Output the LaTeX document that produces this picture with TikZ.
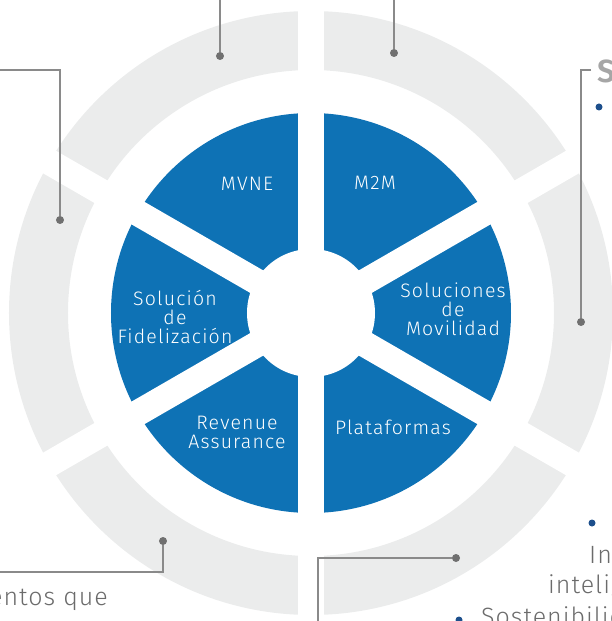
\documentclass[tikz,border=0pt]{standalone}
\usepackage{fontspec}
\setmainfont{Fira Sans Light}
\definecolor{segblue}{HTML}{0E72B5}
\definecolor{ringgray}{HTML}{EBECEC}
\definecolor{leadgray}{HTML}{8A8A8A}
\definecolor{dotgray}{HTML}{707070}
\definecolor{txtgray}{HTML}{6B6B6B}
\definecolor{bulletblue}{HTML}{1D4F8C}
\tikzset{
  lbl/.style={text=white, align=center, inner sep=0pt,
    font=\fontsize{19.5}{19}\selectfont\addfontfeatures{LetterSpace=6}},
  leader/.style={draw=leadgray, line width=1.2pt},
  pin/.style={circle, fill=dotgray, inner sep=0pt, minimum size=8pt},
  side/.style={text=txtgray, inner sep=0pt,
    font=\fontsize{25}{28}\selectfont\addfontfeatures{LetterSpace=4}},
  bullet/.style={circle, fill=bulletblue, inner sep=0pt, minimum size=7pt}
}
\begin{document}
\begin{tikzpicture}[x=1pt, y=1pt]
\useasboundingbox (-311,-308) rectangle (300,313);

% outer ring and wheel
\fill[ringgray, even odd rule] (0,0) circle (302) (0,0) circle (243);
\fill[segblue] (0,0) circle (200);
\foreach \a in {90,30,150}
{
    \draw[white, line width=26pt] (\a:330) -- (\a+180:330);
}
\fill[white] (0,0) circle (64);

\node[lbl] (mvne) at (-64,129) {MVNE};
\node[lbl] (mtom) at (64,130) {M2M};
\node[lbl] (movil) at (142,4) {Soluciones\\de\\Movilidad};
\node[lbl] (fidel) at (-136,-4) {Solución\\de\\Fidelización};
\node[lbl] (revenue) at (-74,-119) {Revenue\\Assurance};
\node[lbl] (plat) at (82,-114) {Plataformas};

% leaders
\node[pin] (p1) at (-91,257) {};
\node[pin] (p2) at (83,260) {};
\node[pin] (p3) at (-251,93) {};
\node[pin] (p4) at (270,-9) {};
\node[pin] (p5) at (-148,-228) {};
\node[pin] (p6) at (145,-245) {};
\coordinate (e1) at (-91,313);
\coordinate (e2) at (83,313);
\coordinate (e3) at (-311,243);
\coordinate (e4) at (280,243);
\coordinate (e5) at (-311,-259);
\coordinate (e6) at (7,-308);
\draw[leader] (e1) -- (p1);
\draw[leader] (e2) -- (p2);
\draw[leader] (e3) -| (p3);
\draw[leader] (e4) -| (p4);
\draw[leader] (e5) -| (p5);
\draw[leader] (e6) |- (p6);

% side texts
\node[side, anchor=base east] (t1) at (-203,-292) {entos que};
\node[side, anchor=base west, text=gray!70, font=\fontsize{32}{34}\selectfont\bfseries] (t2) at (286,230) {S};
\node[bullet] (b1) at (288,206) {};
\node[bullet] (b2) at (281,-210) {};
\node[side, anchor=base west] (t3) at (278,-250) {In};
\node[side, anchor=base west] (t4) at (237,-280) {intelig};
\node[bullet] (b3) at (148,-307) {};
\node[side, anchor=base west] (t5) at (170,-312) {Sostenibilid};
\end{tikzpicture}
\end{document}
